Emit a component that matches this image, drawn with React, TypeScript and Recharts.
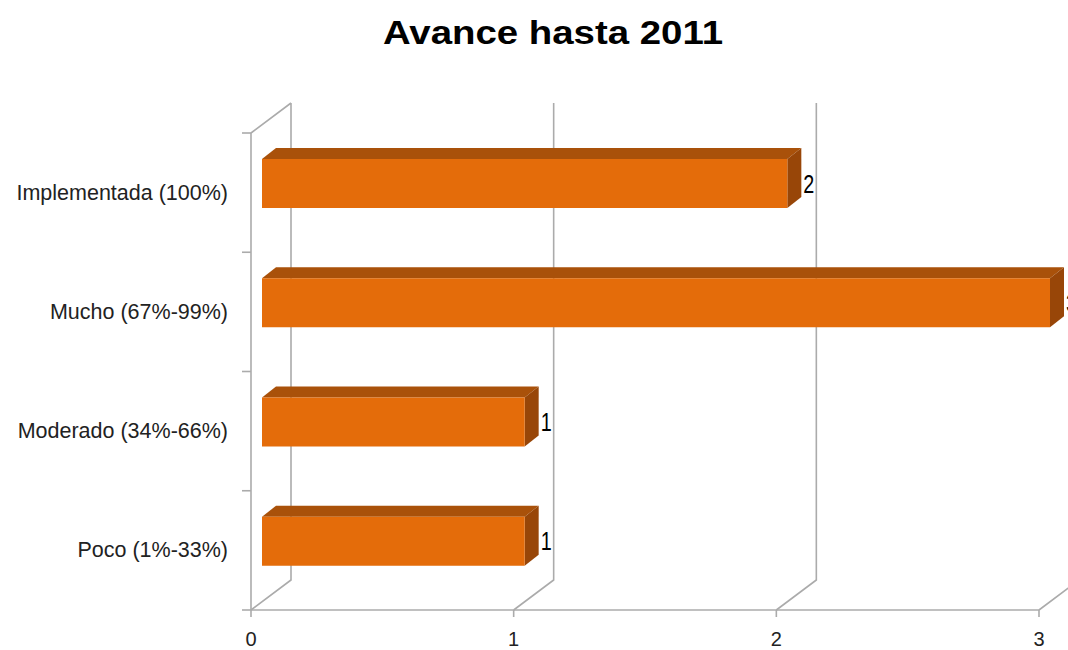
import React from "react";
import { BarChart, Bar, XAxis, YAxis, CartesianGrid, LabelList } from "recharts";

const categories = ["Implementada (100%)", "Mucho (67%-99%)", "Moderado (34%-66%)", "Poco (1%-33%)"];
const values = [2, 3, 1, 1];
const xTicks = [0, 1, 2, 3];
const title = "Avance hasta 2011";

const data = categories.map((name, i) => ({ name, value: values[i] }));

const W = 1068;
const H = 650;
const TOP = 133;
const LEFT = 251;
const RIGHT = 29;
const XAXIS_H = 40;
const PLOT_H = H - TOP - XAXIS_H;
const BAND = PLOT_H / categories.length;
const WALL_DX = 40;
const WALL_DY = -30;
const BAR_FX = 11;
const BAR_FY = -9;
const BAR_DX = 14;
const BAR_DY = -11;
const GRID = "#ababab";
const FONT = "'Liberation Sans', Arial, sans-serif";

const FRONT = "#e46c0a";
const TOPC = "#a9510a";
const SIDE = "#984608";

const gridLine = (props: any) => {
  const { x1, y1, y2, index } = props;
  const top = Math.min(y1, y2);
  const bottom = Math.max(y1, y2);
  let d = `M${x1},${bottom} L${x1 + WALL_DX},${bottom + WALL_DY} L${x1 + WALL_DX},${top + WALL_DY}`;
  if (Math.abs(x1 - LEFT) < 1) {
    d += ` M${x1},${top} L${x1 + WALL_DX},${top + WALL_DY}`;
  }
  return <path key={`g-${index}-${x1}`} d={d} stroke={GRID} strokeWidth={1.6} fill="none" />;
};

const Bar3D = (props: any) => {
  const { x, y, width, height } = props;
  if (!width || width <= 0) return null;
  const fx = x + BAR_FX;
  const fy = y + BAR_FY;
  const topPts = `${fx},${fy} ${fx + BAR_DX},${fy + BAR_DY} ${fx + width + BAR_DX},${fy + BAR_DY} ${fx + width},${fy}`;
  const sidePts = `${fx + width},${fy} ${fx + width + BAR_DX},${fy + BAR_DY} ${fx + width + BAR_DX},${fy + BAR_DY + height} ${fx + width},${fy + height}`;
  return (
    <g>
      <polygon points={topPts} fill={TOPC} />
      <polygon points={sidePts} fill={SIDE} />
      <rect x={fx} y={fy} width={width} height={height} fill={FRONT} />
    </g>
  );
};

const ValueLabel = (props: any) => {
  const { x, y, width, height, value } = props;
  return (
    <text
      x={x + width + BAR_FX + BAR_DX + 2}
      y={y + BAR_FY + height / 2 + 9}
      fontFamily={FONT}
      fontSize={26}
      fill="#000"
      textAnchor="start"
      textLength={11}
      lengthAdjust="spacingAndGlyphs"
    >
      {value}
    </text>
  );
};

const YTick = (props: any) => {
  const { y, payload, index } = props;
  const bTop = y - BAND / 2;
  const bBot = y + BAND / 2;
  return (
    <g>
      <line x1={LEFT - 9} y1={bTop} x2={LEFT} y2={bTop} stroke={GRID} strokeWidth={1.6} />
      {index === categories.length - 1 && (
        <line x1={LEFT - 9} y1={bBot} x2={LEFT} y2={bBot} stroke={GRID} strokeWidth={1.6} />
      )}
      <text x={LEFT - 23} y={y + 7} textAnchor="end" fontFamily={FONT} fontSize={21.5} fill="#222">
        {payload.value}
      </text>
    </g>
  );
};

const XTick = (props: any) => {
  const { x, payload } = props;
  return (
    <text x={x} y={H - 4} textAnchor="middle" fontFamily={FONT} fontSize={20} fill="#222">
      {payload.value}
    </text>
  );
};

export default function App() {
  return (
    <div style={{ position: "absolute", left: 0, top: 0, width: W, height: H, background: "#fff" }}>
      <svg width={W} height={80} style={{ position: "absolute", left: 0, top: 0 }}>
        <text
          x={553}
          y={44}
          textAnchor="middle"
          fontFamily={FONT}
          fontWeight="bold"
          fontSize={34}
          fill="#000"
          textLength={340}
          lengthAdjust="spacingAndGlyphs"
        >
          {title}
        </text>
      </svg>
      <div style={{ position: "absolute", left: 0, top: 0 }}>
        <BarChart
          width={W}
          height={H}
          data={data}
          layout="vertical"
          margin={{ top: TOP, right: RIGHT, bottom: 0, left: 0 }}
        >
          <CartesianGrid horizontal={false} vertical={gridLine} />
          <XAxis
            type="number"
            domain={[0, 3]}
            ticks={xTicks}
            height={XAXIS_H}
            axisLine={{ stroke: GRID, strokeWidth: 1.6 }}
            tickLine={{ stroke: GRID, strokeWidth: 1.6 }}
            tickSize={7}
            tick={<XTick />}
            interval={0}
          />
          <YAxis
            type="category"
            dataKey="name"
            width={LEFT}
            axisLine={{ stroke: GRID, strokeWidth: 1.6 }}
            tickLine={false}
            tick={<YTick />}
            interval={0}
          />
          <Bar dataKey="value" barSize={49} shape={<Bar3D />} isAnimationActive={false}>
            <LabelList dataKey="value" content={<ValueLabel />} />
          </Bar>
        </BarChart>
      </div>
    </div>
  );
}
